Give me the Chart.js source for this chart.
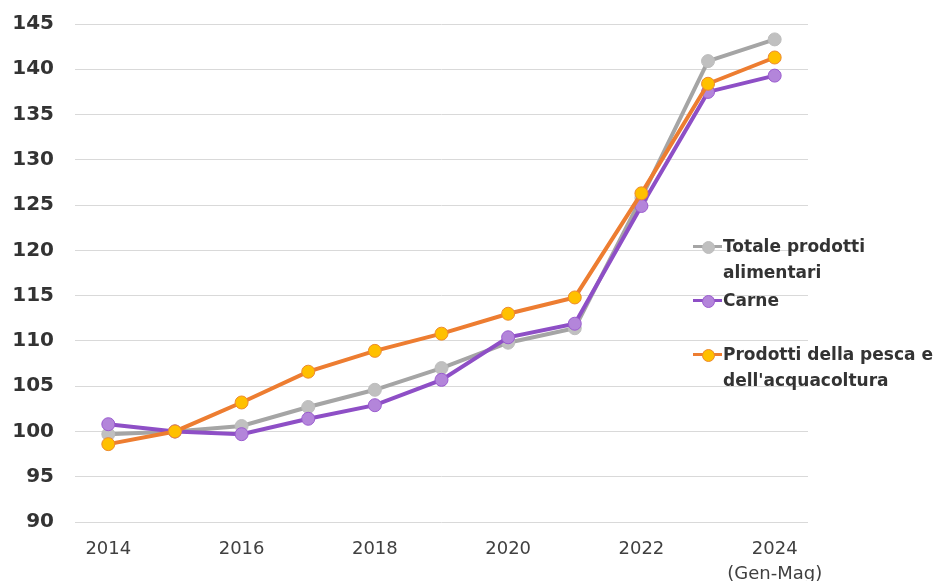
<!DOCTYPE html>
<html><head><meta charset="utf-8">
<script src="https://cdn.jsdelivr.net/npm/chart.js@4/dist/chart.umd.min.js"></script>
<style>
html,body{margin:0;padding:0;background:#fff;}
#wrap{position:relative;width:935px;height:581px;}
#legend{position:absolute;left:0;top:0;width:935px;height:581px;pointer-events:none;}
.item{position:absolute;left:693px;height:26px;}
.mk{position:absolute;left:0;top:12px;width:29px;height:3px;}
.dot{position:absolute;left:9px;top:7.5px;width:13px;height:13px;border-radius:50%;box-sizing:border-box;border:1px solid;}
.txt{position:absolute;left:30px;top:0;white-space:pre;font:bold 17px "DejaVu Sans";line-height:26px;color:#333;}
</style></head>
<body>
<div id="wrap"><canvas id="c" width="935" height="581"></canvas><div id="legend"></div></div>
<script>
const years = ['2014','2015','2016','2017','2018','2019','2020','2021','2022','2023','2024'];
const xTickLabels = ['2014','','2016','','2018','','2020','','2022','',['2024','(Gen-Mag)']];
const seriesNames = ['Totale prodotti\nalimentari','Carne','Prodotti della pesca e\ndell\'acquacoltura'];
const totale = [99.7, 100.0, 100.6, 102.7, 104.6, 107.0, 109.8, 111.4, 125.8, 140.9, 143.3];
const carne  = [100.8, 100.0, 99.7, 101.4, 102.9, 105.7, 110.4, 111.9, 124.9, 137.5, 139.3];
const pesca  = [98.6, 100.0, 103.2, 106.6, 108.9, 110.8, 113.0, 114.8, 126.3, 138.4, 141.3];
const yMin = 90, yMax = 145, yStep = 5;

const styles = [
  {line:'#A5A5A5', fill:'#C0C0C0', border:'#BDBDBD'},
  {line:'#8E4FC6', fill:'#B385DA', border:'#9A5BCF'},
  {line:'#ED7D31', fill:'#FFC000', border:'#ED8A2E'}
];
const values = [totale, carne, pesca];

const datasets = values.map((v,i)=>({
  label: seriesNames[i],
  data: v,
  order: 3 - i,
  borderColor: styles[i].line,
  backgroundColor: styles[i].fill,
  borderWidth: 4,
  pointRadius: 6.5,
  pointBorderWidth: 1,
  pointBackgroundColor: styles[i].fill,
  pointBorderColor: styles[i].border,
  tension: 0,
  fill: false
}));

new Chart(document.getElementById('c'), {
  type: 'line',
  data: { labels: years, datasets },
  options: {
    responsive: false,
    animation: false,
    events: [],
    layout: { padding: { left: 0, right: 127, top: 24, bottom: 0 } },
    plugins: { legend: { display: false }, tooltip: { enabled: false } },
    scales: {
      x: {
        offset: true,
        grid: { display: false },
        border: { display: false },
        afterFit: s => { s.height = 59; },
        ticks: {
          autoSkip: false, maxRotation: 0, padding: 7,
          color: '#404040',
          font: { family: 'DejaVu Sans', size: 18, lineHeight: 1.39 },
          callback: (v, i) => xTickLabels[i]
        }
      },
      y: {
        min: yMin, max: yMax,
        afterFit: s => { s.width = 75; s.paddingTop = 0; s.paddingBottom = 0; },
        grid: { color: '#D9D9D9', lineWidth: 1, drawTicks: false },
        border: { display: false },
        ticks: {
          stepSize: yStep, padding: 21,
          color: '#333333',
          font: { family: 'DejaVu Sans', size: 20, weight: 'bold' }
        }
      }
    }
  }
});

// HTML legend
const legendTops = [233, 287, 341];
const lg = document.getElementById('legend');
seriesNames.forEach((n,i)=>{
  const it = document.createElement('div');
  it.className = 'item';
  it.style.top = legendTops[i] + 'px';
  const mk = document.createElement('div'); mk.className='mk'; mk.style.background = styles[i].line;
  const dot = document.createElement('div'); dot.className='dot'; dot.style.background = styles[i].fill; dot.style.borderColor = styles[i].border;
  const t = document.createElement('div'); t.className='txt'; t.textContent = n;
  it.appendChild(mk); it.appendChild(dot); it.appendChild(t);
  lg.appendChild(it);
});
</script>
</body></html>
